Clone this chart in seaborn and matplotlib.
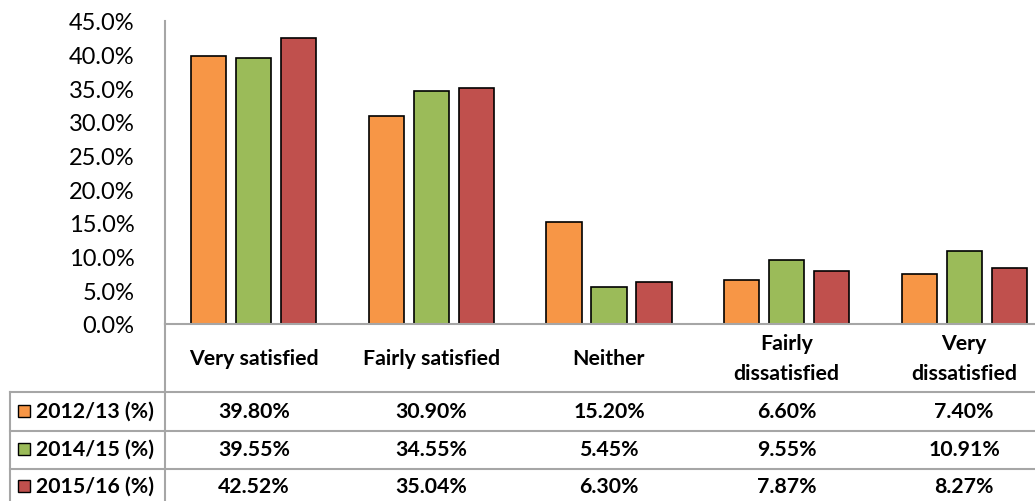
import pandas as pd
import numpy as np
import matplotlib
matplotlib.use("Agg")
import matplotlib.pyplot as plt
from matplotlib.patches import Rectangle
from matplotlib.lines import Line2D
import seaborn as sns

# --- DATA ---
categories = ["Very satisfied", "Fairly satisfied", "Neither",
              "Fairly\ndissatisfied", "Very\ndissatisfied"]
periods = ["2012/13 (%)", "2014/15 (%)", "2015/16 (%)"]
vals_2012 = [39.80, 30.90, 15.20, 6.60, 7.40]
vals_2014 = [39.55, 34.55, 5.45, 9.55, 10.91]
vals_2015 = [42.52, 35.04, 6.30, 7.87, 8.27]
colors = ["#F79646", "#9BBB59", "#C0504D"]

W, H = 1035, 502
# layout in pixels (plot area runs off the right edge like the source)
X0, X1 = 165, 1053
Y_TOP, Y_BASE = 22, 325
GRID = "#A6A6A6"
FONT = "Lato"
TSIZE = 15.3

df = pd.DataFrame({
    "category": categories * 3,
    "period": [p for p in periods for _ in categories],
    "value": vals_2012 + vals_2014 + vals_2015,
})

fig = plt.figure(figsize=(W / 100, H / 100), dpi=100)
ax = fig.add_axes([X0 / W, 1 - Y_BASE / H, (X1 - X0) / W, (Y_BASE - Y_TOP) / H])

sns.barplot(data=df, x="category", y="value", hue="period", order=categories,
            hue_order=periods, palette=dict(zip(periods, colors)),
            saturation=1, width=0.76, gap=0.22, edgecolor="black",
            linewidth=1.2, legend=False, ax=ax)

ax.set_xlim(-0.5, 4.5)
ax.set_ylim(0, 45)
ax.set_yticks(np.arange(0, 46, 5))
ax.set_yticklabels([f"{v:.1f}%" for v in np.arange(0, 46, 5)],
                   fontsize=17, family=FONT)
ax.tick_params(axis="y", length=0, pad=22)
ax.set_xticks([])
ax.set_xlabel("")
ax.set_ylabel("")
for s in ["top", "right"]:
    ax.spines[s].set_visible(False)
for s in ["left", "bottom"]:
    ax.spines[s].set_color(GRID)
    ax.spines[s].set_linewidth(1.5)

# --- data table under the chart ---
trans = ax.get_xaxis_transform()
def frac(ypix):
    return (Y_BASE - ypix) / (Y_BASE - Y_TOP)

for i, cat in enumerate(categories):
    ax.text(i, frac(359), cat, transform=trans, ha="center", va="center",
            fontsize=TSIZE, fontweight="bold", family=FONT,
            linespacing=1.65, clip_on=False)

row_y = [412, 450, 487]
series = [vals_2012, vals_2014, vals_2015]
for r, (label, vals, col) in enumerate(zip(periods, series, colors)):
    for i, v in enumerate(vals):
        ax.text(i, frac(row_y[r]), f"{v:.2f}%", transform=trans, ha="center",
                va="center", fontsize=TSIZE, fontweight="bold", family=FONT,
                clip_on=False)
    fig.add_artist(Rectangle((18 / W, 1 - (row_y[r] + 6) / H), 12 / W, 12 / H,
                             transform=fig.transFigure, facecolor=col,
                             edgecolor="black", linewidth=1.0))
    fig.text(36 / W, 1 - row_y[r] / H, label, ha="left", va="center",
             fontsize=TSIZE, fontweight="bold", family=FONT)

# table grid lines
for yl in [393, 432, 470]:
    fig.add_artist(Line2D([10 / W, 1], [1 - yl / H] * 2, color=GRID, lw=1.5))
fig.add_artist(Line2D([10 / W] * 2, [1 - 393 / H, 0], color=GRID, lw=1.5))
fig.add_artist(Line2D([X0 / W] * 2, [1 - Y_BASE / H, 0], color=GRID, lw=1.5))

fig.savefig("out.png", dpi=100, facecolor="white")
